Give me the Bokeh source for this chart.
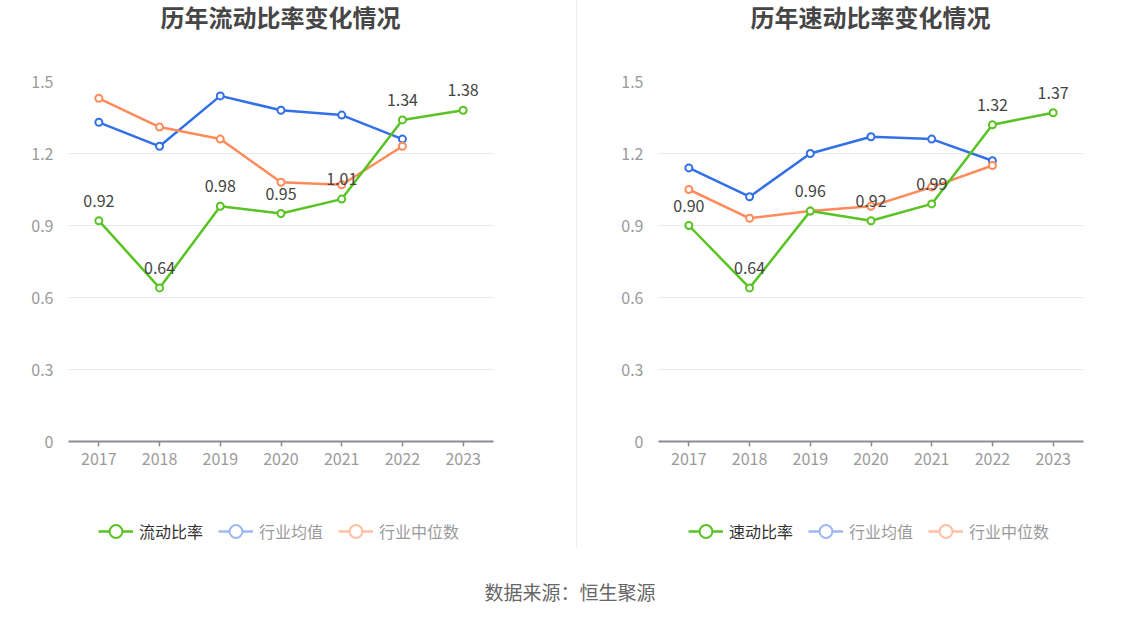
from bokeh.plotting import figure
from bokeh.models import FixedTicker, Legend, LegendItem, Div, Range1d, FactorRange
from bokeh.layouts import row, column
from bokeh.embed import file_html
from bokeh.resources import INLINE
from bokeh.core.properties import value

# ---------------- data ----------------
years = ["2017", "2018", "2019", "2020", "2021", "2022", "2023"]
industry_years = ["2017", "2018", "2019", "2020", "2021", "2022"]

current_ratio = [0.92, 0.64, 0.98, 0.95, 1.01, 1.34, 1.38]
current_industry_avg = [1.33, 1.23, 1.44, 1.38, 1.36, 1.26]
current_industry_median = [1.43, 1.31, 1.26, 1.08, 1.07, 1.23]

quick_ratio = [0.90, 0.64, 0.96, 0.92, 0.99, 1.32, 1.37]
quick_industry_avg = [1.14, 1.02, 1.20, 1.27, 1.26, 1.17]
quick_industry_median = [1.05, 0.93, 0.96, 0.98, 1.06, 1.15]

y_ticks = [0, 0.3, 0.6, 0.9, 1.2, 1.5]

titles = ["历年流动比率变化情况", "历年速动比率变化情况"]
series_names = [["流动比率", "行业均值", "行业中位数"], ["速动比率", "行业均值", "行业中位数"]]
source_text = "数据来源：恒生聚源"

# ---------------- style ----------------
FONT = "Noto Sans CJK SC"
GREEN, BLUE, ORANGE = "#58C322", "#3370E8", "#FF8A5A"
BLUE_LIGHT, ORANGE_LIGHT = "#9DB8F2", "#FFBFA5"
FRAME_W, FRAME_H = 425, 360
TITLE_H, TOP_B, BOT_B, LEG_H = 41, 40, 40, 67
NAN = float("nan")


def make_title(text, width, left):
    return Div(
        text=f'<div style="width:{FRAME_W}px;margin-left:{left}px;text-align:center;'
             f'font-size:24px;font-weight:bold;color:#464646;font-family:\'{FONT}\';'
             f'line-height:34px;white-space:nowrap;">{text}</div>',
        width=width, height=TITLE_H, margin=0)


def make_chart(main, avg, med, width, left, right):
    p = figure(
        width=width, height=TOP_B + FRAME_H + BOT_B,
        x_range=FactorRange(*years), y_range=Range1d(0, 1.5),
        output_backend="svg", toolbar_location=None,
        min_border_left=left, min_border_right=right,
        min_border_top=TOP_B, min_border_bottom=BOT_B,
    )
    p.outline_line_color = None
    p.background_fill_color = "white"
    p.border_fill_color = "white"

    p.yaxis.ticker = FixedTicker(ticks=y_ticks)
    p.yaxis.major_label_overrides = {0: "0"}
    p.yaxis.axis_line_color = None
    p.yaxis.major_tick_line_color = None
    p.yaxis.minor_tick_line_color = None
    p.yaxis.major_label_standoff = 9
    p.yaxis.major_label_text_font_size = "16px"
    p.yaxis.major_label_text_color = "#9A9A9A"
    p.yaxis.major_label_text_font = FONT

    p.xaxis.axis_line_color = "#8A8D99"
    p.xaxis.axis_line_width = 2
    p.xaxis.major_tick_line_color = "#8A8D99"
    p.xaxis.major_tick_line_width = 1.5
    p.xaxis.major_tick_out = 5
    p.xaxis.major_tick_in = 0
    p.xaxis.major_label_standoff = 6
    p.xaxis.major_label_text_font_size = "16px"
    p.xaxis.major_label_text_color = "#9A9A9A"
    p.xaxis.major_label_text_font = FONT

    p.xgrid.grid_line_color = None
    p.ygrid.ticker = FixedTicker(ticks=y_ticks)
    p.ygrid.grid_line_color = "#E6EAF3"
    p.ygrid.grid_line_width = 1

    p.line(x=industry_years, y=avg, line_color=BLUE, line_width=2.5)
    p.scatter(x=industry_years, y=avg, marker="circle", size=7,
              fill_color="white", line_color=BLUE, line_width=2)
    p.line(x=industry_years, y=med, line_color=ORANGE, line_width=2.5)
    p.scatter(x=industry_years, y=med, marker="circle", size=7,
              fill_color="white", line_color=ORANGE, line_width=2)
    p.line(x=years, y=main, line_color=GREEN, line_width=2.5)
    p.scatter(x=years, y=main, marker="circle", size=7,
              fill_color="white", line_color=GREEN, line_width=2)

    p.text(x=years, y=main, text=[f"{v:.2f}" for v in main],
           text_align="center", text_baseline="middle", y_offset=-20,
           text_font_size="16px", text_color="#444444", text_font=value(FONT))
    return p


def make_legend(names, width, left, right):
    lf = figure(width=width, height=LEG_H, x_range=Range1d(0, 1), y_range=Range1d(0, 1),
                output_backend="svg", toolbar_location=None,
                x_axis_location=None, y_axis_location=None,
                min_border_left=left, min_border_right=right,
                min_border_top=0, min_border_bottom=0)
    lf.grid.visible = False
    lf.outline_line_color = None
    lf.background_fill_color = "white"
    lf.border_fill_color = "white"
    specs = [(names[0], GREEN, "#333333", 30),
             (names[1], BLUE_LIGHT, "#9A9A9A", 150),
             (names[2], ORANGE_LIGHT, "#9A9A9A", 270)]
    for name, col, tcol, xpos in specs:
        # legend-only renderers: a single NaN point, so nothing is drawn in the frame
        lr = lf.line(x=[NAN], y=[NAN], line_color=col, line_width=2.5)
        sr = lf.scatter(x=[NAN], y=[NAN], marker="circle", size=13,
                        fill_color="white", line_color=col, line_width=2)
        leg = Legend(items=[LegendItem(label=name, renderers=[lr, sr])],
                     location=(xpos, 1), orientation="horizontal",
                     glyph_width=35, glyph_height=32, label_standoff=6,
                     padding=0, margin=0, spacing=0,
                     border_line_alpha=0, background_fill_alpha=0,
                     label_text_font_size="16px", label_text_color=tcol,
                     label_text_font=FONT)
        lf.add_layout(leg, "center")
    return lf


LEFT_W, RIGHT_W = 576, 563
col1 = column(make_title(titles[0], LEFT_W, 68),
              make_chart(current_ratio, current_industry_avg, current_industry_median,
                         LEFT_W, 68, 83),
              make_legend(series_names[0], LEFT_W, 68, 83))
col2 = column(make_title(titles[1], RIGHT_W, 81),
              make_chart(quick_ratio, quick_industry_avg, quick_industry_median,
                         RIGHT_W, 81, 57),
              make_legend(series_names[1], RIGHT_W, 81, 57))

divider = Div(text="", width=1, height=TITLE_H + TOP_B + FRAME_H + BOT_B + LEG_H, margin=0,
              styles={"background-color": "#EEEEEE"})

footer = Div(
    text=f'<div style="width:1140px;text-align:center;font-size:19px;color:#666666;'
         f'font-family:\'{FONT}\';margin-top:33px;line-height:22px;">{source_text}</div>',
    width=1140, height=60, margin=0)

layout = column(row(col1, divider, col2), footer)

open("out.html", "w").write(file_html(layout, INLINE))
